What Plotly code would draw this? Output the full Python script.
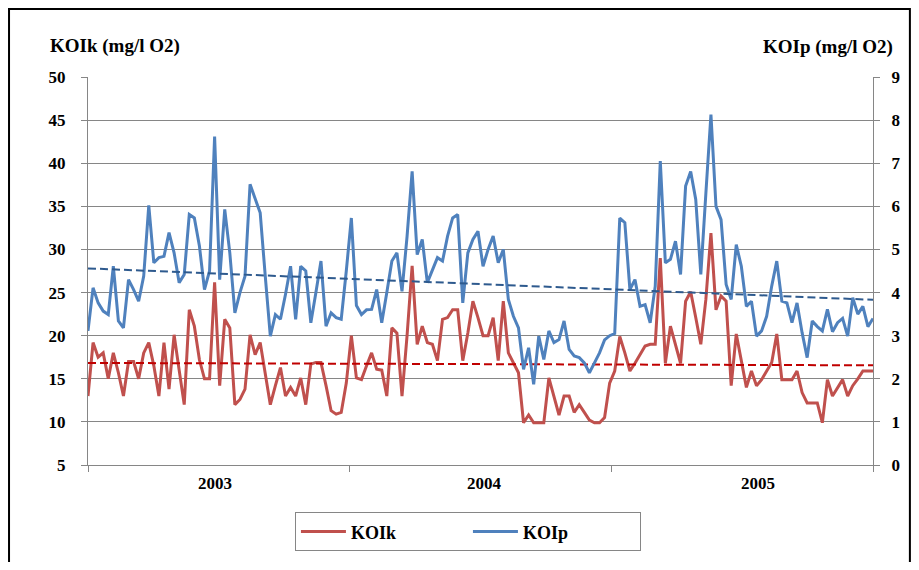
import numpy as np
import plotly.graph_objects as go

# ---------------- data (weekly samples 2003-2005) ----------------
weeks = list(range(156))

koik = [13.0, 19.2, 17.5, 18.0, 15.0, 18.0, 15.7, 13.0, 17.0, 17.0,
        15.0, 18.0, 19.2, 16.5, 13.0, 19.2, 13.8, 20.1, 16.0, 12.0,
        23.0, 21.1, 17.2, 15.0, 15.0, 26.2, 14.2, 21.9, 20.9, 12.0,
        12.6, 13.8, 20.1, 17.8, 19.2, 15.7, 12.0, 14.2, 16.3, 13.0,
        14.0, 13.0, 15.1, 12.0, 16.7, 16.9, 16.9, 14.2, 11.3, 10.9,
        11.1, 14.5, 20.0, 15.1, 14.9, 16.5, 18.0, 16.1, 16.0, 13.0,
        20.9, 20.3, 13.0, 20.0, 28.1, 19.0, 21.1, 19.2, 19.0, 17.1,
        21.9, 22.1, 23.0, 23.0, 17.1, 20.3, 24.0, 22.1, 20.0, 20.0,
        22.1, 17.1, 24.0, 18.0, 16.8, 15.7, 9.9, 10.8, 9.9, 9.9,
        9.9, 15.1, 13.0, 10.8, 13.0, 13.0, 11.1, 12.0, 11.1, 10.2,
        9.9, 9.9, 10.5, 14.5, 15.9, 19.9, 18.0, 15.9, 16.8, 17.8,
        18.8, 19.0, 19.0, 29.0, 16.8, 21.1, 19.0, 16.8, 24.0, 25.1,
        22.1, 19.0, 24.2, 31.9, 23.0, 24.6, 24.0, 14.2, 20.2, 16.9,
        14.0, 15.9, 14.2, 14.9, 15.9, 16.9, 20.2, 14.9, 14.9, 14.9,
        15.9, 13.4, 12.2, 12.2, 12.2, 9.9, 14.9, 13.0, 14.0, 14.9,
        13.0, 14.2, 15.0, 15.9, 15.9, 15.9]

koip = [3.11, 4.11, 3.76, 3.57, 3.49, 4.61, 3.34, 3.18, 4.30, 4.07,
        3.80, 4.38, 6.02, 4.69, 4.81, 4.84, 5.39, 4.92, 4.23, 4.42,
        5.81, 5.73, 5.08, 4.07, 4.50, 7.62, 4.30, 5.93, 4.92, 3.53,
        4.00, 4.38, 6.51, 6.20, 5.85, 4.38, 2.99, 3.49, 3.38, 3.96,
        4.61, 3.38, 4.61, 4.50, 3.30, 4.00, 4.73, 3.22, 3.53, 3.42,
        3.38, 4.50, 5.73, 3.70, 3.49, 3.60, 3.61, 4.07, 3.30, 4.00,
        4.73, 4.92, 4.03, 5.30, 6.81, 4.88, 5.23, 4.23, 4.54, 4.81,
        4.73, 5.31, 5.73, 5.81, 3.76, 4.92, 5.23, 5.42, 4.61, 5.00,
        5.31, 4.69, 5.00, 3.84, 3.45, 3.18, 2.22, 2.72, 1.87, 2.99,
        2.45, 3.11, 2.84, 2.91, 3.34, 2.68, 2.53, 2.49, 2.37, 2.14,
        2.37, 2.60, 2.90, 3.00, 3.05, 5.73, 5.62, 4.07, 4.30, 3.68,
        3.72, 3.30, 4.15, 7.05, 4.69, 4.77, 5.19, 4.42, 6.47, 6.81,
        6.16, 4.42, 6.30, 8.13, 6.00, 5.69, 4.19, 3.84, 5.11, 4.61,
        3.68, 3.80, 2.99, 3.11, 3.45, 4.15, 4.73, 3.80, 3.76, 3.30,
        3.76, 3.07, 2.49, 3.34, 3.21, 3.11, 3.61, 3.09, 3.30, 3.40,
        2.99, 3.88, 3.50, 3.68, 3.21, 3.40]

year_labels = ["2003", "2004", "2005"]
year_label_pos = [25.1, 78.2, 132.3]
year_bounds = [0, 51.67, 103.33, 155]

left_title = "KOIk (mg/l O2)"
right_title = "KOIp (mg/l O2)"

# ---------------- linear trends ----------------
x = np.array(weeks, dtype=float)
trend_k = np.polyval(np.polyfit(x, koik, 1), x)
trend_p = np.polyval(np.polyfit(x, koip, 1), x)

RED = "#C0504D"
BLUE = "#4F81BD"
GRID = "#868686"
FONT = "Liberation Serif"

fig = go.Figure()
fig.add_trace(go.Scatter(x=weeks, y=koik, name="KOIk", mode="lines",
                         line=dict(color=RED, width=3), yaxis="y"))
fig.add_trace(go.Scatter(x=weeks, y=koip, name="KOIp", mode="lines",
                         line=dict(color=BLUE, width=3), yaxis="y2"))
fig.add_trace(go.Scatter(x=weeks, y=trend_k, mode="lines", showlegend=False,
                         line=dict(color="#C00000", width=2, dash="8px,4px"),
                         yaxis="y", hoverinfo="skip"))
fig.add_trace(go.Scatter(x=weeks, y=trend_p, mode="lines", showlegend=False,
                         line=dict(color="#2E5A8E", width=2, dash="8px,4px"),
                         yaxis="y2", hoverinfo="skip"))

tickfont = dict(family=FONT, size=17, color="black", weight="bold")
titlefont = dict(family=FONT, size=19, color="black", weight="bold")

# page body has an 8px margin, so the figure is sized/positioned to compensate
fig.update_layout(
    width=903, height=554,
    margin=dict(l=80, r=38, t=69, b=96),
    paper_bgcolor="white", plot_bgcolor="white",
    font=dict(family=FONT, size=17, color="black"),
    xaxis=dict(range=[0, 155], showgrid=False, zeroline=False,
               showline=True, linecolor=GRID, linewidth=1,
               tickmode="array", tickvals=year_label_pos, ticktext=year_labels,
               ticks="", tickfont=tickfont, ticklabelstandoff=3,
               minor=dict(tickmode="array", tickvals=year_bounds,
                          ticks="outside", ticklen=6, tickcolor=GRID, tickwidth=1)),
    yaxis=dict(range=[5, 50], tick0=5, dtick=5, showgrid=True, gridcolor=GRID,
               gridwidth=1, zeroline=False, showline=True, linecolor=GRID,
               ticks="outside", ticklen=6, tickcolor=GRID, tickfont=tickfont,
               ticklabelstandoff=12),
    yaxis2=dict(range=[0, 9], tick0=0, dtick=1, overlaying="y", side="right",
                showgrid=False, zeroline=False, showline=True, linecolor=GRID,
                ticks="outside", ticklen=6, tickcolor=GRID, tickfont=tickfont,
                ticklabelstandoff=8),
    legend=dict(orientation="h", x=0.484, xanchor="center", y=-0.119, yanchor="top",
                bordercolor=GRID, borderwidth=1, bgcolor="white",
                font=dict(family=FONT, size=18, color="black", weight="bold"),
                entrywidth=112, itemwidth=45),
    annotations=[
        dict(text=left_title, xref="paper", yref="paper", x=-0.051, y=1.0806,
             xanchor="left", yanchor="middle", showarrow=False, font=titlefont),
        dict(text=right_title, xref="paper", yref="paper", x=1.028, y=1.078,
             xanchor="right", yanchor="middle", showarrow=False, font=titlefont),
    ],
    shapes=[dict(type="rect", xref="paper", yref="paper",
                 x0=-0.1006, x1=1.047, y0=-0.3, y1=1.175,
                 line=dict(color="black", width=2), fillcolor="rgba(0,0,0,0)",
                 layer="below")],
)

fig.write_html("out.html")
